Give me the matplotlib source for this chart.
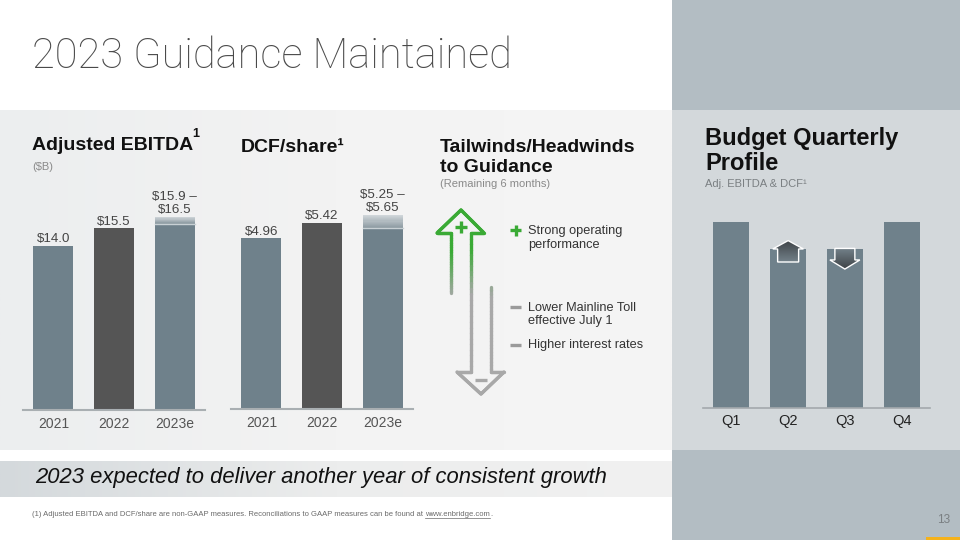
import numpy as np
import matplotlib.pyplot as plt
from matplotlib.patches import Rectangle, Polygon
from matplotlib.collections import LineCollection
from matplotlib.colors import LinearSegmentedColormap, to_rgb

years = ['2021', '2022', '2023e']
ebitda = [14.0, 15.5, 15.9]
ebitda_high = 16.5
ebitda_labels = ['$14.0', '$15.5', '$15.9 –\n$16.5']
dcf = [4.96, 5.42, 5.25]
dcf_high = 5.65
dcf_labels = ['$4.96', '$5.42', '$5.25 –\n$5.65']
quarters = ['Q1', 'Q2', 'Q3', 'Q4']
quarter_profile = [1.0, 0.855, 0.855, 1.0]
tailwinds = ['Strong operating\nperformance']
headwinds = ['Lower Mainline Toll\neffective July 1', 'Higher interest rates']

SLATE = '#6f818b'
DARK = '#555555'
GREEN = '#3aaa35'
GREY_ARROW = '#a8a8a8'
ARIAL = ['Liberation Sans', 'DejaVu Sans']

plt.rcParams['font.family'] = ARIAL


def mix(c1, c2, t):
    a, b = np.array(to_rgb(c1)), np.array(to_rgb(c2))
    return tuple(a + (b - a) * t)


fig = plt.figure(figsize=(9.6, 5.4), dpi=100)
fig.patch.set_facecolor('white')
bg = fig.add_axes([0, 0, 1, 1])
bg.set_xlim(0, 960)
bg.set_ylim(540, 0)
bg.axis('off')

# background panels
grad = np.linspace(0, 1, 256).reshape(1, -1)
bg.imshow(grad, extent=(0, 672, 450, 110), aspect='auto', zorder=0,
          cmap=LinearSegmentedColormap.from_list('c', ['#eceeef', '#f3f3f3', '#f5f5f5']))
bg.imshow(grad, extent=(0, 672, 497, 461), aspect='auto', zorder=0,
          cmap=LinearSegmentedColormap.from_list('b', ['#d4d9dc', '#eceded', '#f1f1f1']))
bg.add_patch(Rectangle((672, 0), 288, 110, color='#b3bdc3', lw=0, zorder=0))
bg.add_patch(Rectangle((672, 110), 288, 340, color='#d3d8db', lw=0, zorder=0))
bg.add_patch(Rectangle((672, 450), 288, 90, color='#b3bdc3', lw=0, zorder=0))
bg.add_patch(Rectangle((926, 537), 34, 3, color='#f5b21b', lw=0, zorder=1))
bg.set_xlim(0, 960)
bg.set_ylim(540, 0)

# titles and headings
bg.text(32, 56, '2023 Guidance Maintained', fontsize=30, family=['Roboto', 'DejaVu Sans'],
        fontweight='light', color='#4a4a4a', va='center')
bg.text(32, 146, 'Adjusted EBITDA', fontsize=14, fontweight='bold', color='#111111', va='center')
bg.text(192, 134, '1', fontsize=9, fontweight='bold', color='#111111', va='center')
bg.text(32, 167, '($B)', fontsize=8, color='#8a8a8a', va='center')
bg.text(241, 147, 'DCF/share¹', fontsize=14, fontweight='bold', color='#111111', va='center')
bg.text(440, 147, 'Tailwinds/Headwinds', fontsize=14, fontweight='bold', color='#111111', va='center')
bg.text(440, 167, 'to Guidance', fontsize=14, fontweight='bold', color='#111111', va='center')
bg.text(440, 184, '(Remaining 6 months)', fontsize=8, color='#8a8a8a', va='center')
bg.text(705, 138, 'Budget Quarterly', fontsize=17, fontweight='bold', color='#111111', va='center')
bg.text(705, 163, 'Profile', fontsize=17, fontweight='bold', color='#111111', va='center')
bg.text(705, 184, 'Adj. EBITDA & DCF¹', fontsize=8, color='#7a7f82', va='center')

# tailwind / headwind arrows
path = np.array([(451, 293), (451, 233), (437, 233), (461, 210), (484, 233), (471, 233),
                 (471, 372), (457, 372), (481, 394), (504, 372), (491, 372), (491, 287)], float)
pts = []
for a, b in zip(path[:-1], path[1:]):
    for t in np.linspace(0, 1, 25, endpoint=False):
        pts.append(a + (b - a) * t)
pts.append(path[-1])
pts = np.array(pts)
segs = np.stack([pts[:-1], pts[1:]], axis=1)
cols = []
for s in segs:
    y = s[:, 1].mean()
    t = np.clip((y - 250) / 45, 0, 1)
    cols.append(mix(GREEN, GREY_ARROW, t))
bg.add_collection(LineCollection(segs, colors=cols, linewidths=2.4, capstyle='round', zorder=3))
bg.plot([455, 467], [227, 227], color=GREEN, lw=2.4, solid_capstyle='butt', zorder=3)
bg.plot([461, 461], [221, 233], color=GREEN, lw=2.4, solid_capstyle='butt', zorder=3)
bg.plot([475, 487], [380, 380], color=GREY_ARROW, lw=2.4, solid_capstyle='butt', zorder=3)

# bullet texts
bg.plot([510, 521], [230, 230], color=GREEN, lw=2.4, solid_capstyle='butt')
bg.plot([515.5, 515.5], [224.5, 235.5], color=GREEN, lw=2.4, solid_capstyle='butt')
bg.text(528, 238, tailwinds[0], fontsize=9.2, color='#333333',
        va='center', linespacing=1.15)
for yc, txt in zip([314.5, 345], headwinds):
    first = yc - 7.5 if '\n' in txt else yc
    bg.plot([510, 521], [first, first], color='#9a9a9a', lw=2.4, solid_capstyle='butt')
    bg.text(528, yc, txt, fontsize=9.2, color='#333333',
            va='center', linespacing=1.15)

# band & footnote
bg.text(35, 478, '2023 expected to deliver another year of consistent growth', fontsize=15.8,
        style='italic', color='#111111', va='center')
foot = bg.text(32, 514, '(1) Adjusted EBITDA and DCF/share are non-GAAP measures. '
               'Reconciliations to GAAP measures can be found at ', fontsize=5.5,
               color='#6a6a6a', va='center')
fig.canvas.draw()
bb = foot.get_window_extent().transformed(bg.transData.inverted())
url = bg.text(bb.x1, 514, 'www.enbridge.com', fontsize=5.5, color='#6a6a6a', va='center')
fig.canvas.draw()
ub = url.get_window_extent().transformed(bg.transData.inverted())
bg.plot([ub.x0, ub.x1], [518, 518], color='#6a6a6a', lw=0.5)
bg.text(ub.x1, 514, '.', fontsize=5.5, color='#6a6a6a', va='center')
bg.text(937, 520, '13', fontsize=8.5, color='#7a7f82', va='center')


def bar_panel(left_px, base_px, width_px, px_per_unit, ymax, values, high, labels):
    ax = fig.add_axes([left_px / 960, (540 - base_px) / 540, width_px / 960,
                       ymax * px_per_unit / 540])
    ax.set_facecolor('none')
    x = np.arange(len(values))
    ax.bar(x, values, width=0.66, color=[SLATE, DARK, SLATE], zorder=2)
    steps = 12
    edges = np.linspace(values[-1], high, steps + 1)
    for i in range(steps):
        c = mix('#8a98a0', '#d2d8db', (i + 0.5) / steps)
        ax.bar(x[-1], edges[i + 1] - edges[i], bottom=edges[i], width=0.66, color=c,
               lw=0, zorder=2)
    ax.plot([x[-1] - 0.33, x[-1] + 0.33], [values[-1], values[-1]], color='#c8d0d4',
            lw=1, zorder=3)
    tops = list(values[:-1]) + [high]
    for xi, top, lab in zip(x, tops, labels):
        ax.annotate(lab, (xi, top), xytext=(0, 0.5), textcoords='offset points',
                    ha='center', va='bottom', fontsize=9.6,
                    color='#444444', linespacing=1.1)
    ax.set_xlim(-0.5, len(values) - 0.5)
    ax.set_ylim(0, ymax)
    ax.set_xticks(x, years)
    ax.set_yticks([])
    for s in ['left', 'right', 'top']:
        ax.spines[s].set_visible(False)
    ax.spines['bottom'].set_color('#a9afb2')
    ax.spines['bottom'].set_linewidth(1.5)
    ax.tick_params(axis='x', length=0, pad=5, labelsize=10, labelcolor='#555555')
    return ax


bar_panel(23, 410, 182, 11.72, 18, ebitda, ebitda_high, ebitda_labels)
bar_panel(231, 409, 182, 34.4, 6, dcf, dcf_high, dcf_labels)

# quarterly profile
qax = fig.add_axes([703 / 960, (540 - 408) / 540, 227 / 960, 1.2 * 186 / 540])
qax.set_facecolor('none')
qx = np.arange(len(quarters))
qax.bar(qx, quarter_profile, width=0.63, color=SLATE, zorder=2)
qax.set_xlim(-0.5, 3.5)
qax.set_ylim(0, 1.2)
qax.set_xticks(qx, quarters)
qax.set_yticks([])
for s in ['left', 'right', 'top']:
    qax.spines[s].set_visible(False)
qax.spines['bottom'].set_color('#a3a9ad')
qax.spines['bottom'].set_linewidth(1.2)
qax.tick_params(axis='x', length=0, pad=4, labelsize=10.5, labelcolor='#222222')


def small_arrow(ax, xc, ytop, up):
    if up:
        poly = [(xc, ytop + 0.045), (xc + 0.27, ytop), (xc + 0.185, ytop), (xc + 0.185, ytop - 0.07),
                (xc - 0.185, ytop - 0.07), (xc - 0.185, ytop), (xc - 0.27, ytop)]
        cm = LinearSegmentedColormap.from_list('u', ['#73818a', '#3f4447'])
    else:
        poly = [(xc - 0.176, ytop + 0.003), (xc + 0.176, ytop + 0.003), (xc + 0.176, ytop - 0.059),
                (xc + 0.264, ytop - 0.059), (xc, ytop - 0.108), (xc - 0.264, ytop - 0.059),
                (xc - 0.176, ytop - 0.059)]
        cm = LinearSegmentedColormap.from_list('d', ['#3f4447', '#73818a'])
    p = Polygon(poly, closed=True, facecolor='none', edgecolor='white', lw=1.0, zorder=5)
    ax.add_patch(p)
    xs = [q[0] for q in poly]
    ys = [q[1] for q in poly]
    im = ax.imshow(np.linspace(0, 1, 64).reshape(-1, 1), cmap=cm, aspect='auto',
                   extent=(min(xs), max(xs), min(ys), max(ys)), origin='lower', zorder=4)
    im.set_clip_path(p)


small_arrow(qax, 1, quarter_profile[1], True)
small_arrow(qax, 2, quarter_profile[2], False)
qax.set_xlim(-0.5, 3.5)
qax.set_ylim(0, 1.2)

fig.savefig('out.png', dpi=100)
